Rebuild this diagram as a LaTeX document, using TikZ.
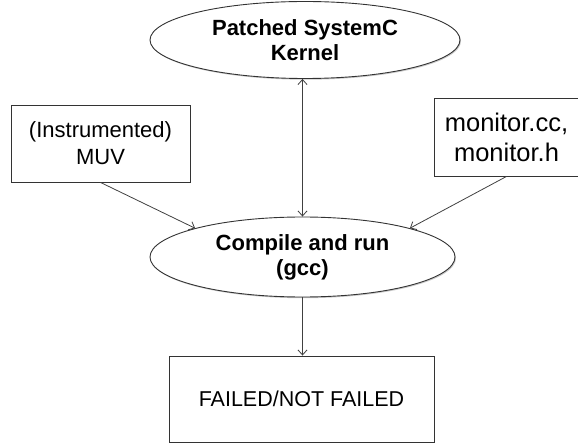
\documentclass[tikz,border=0pt]{standalone}
\usepackage{fontspec}
\setmainfont{Liberation Sans}
\usetikzlibrary{shapes.geometric,arrows.meta,shadows}
\begin{document}
\begin{tikzpicture}[x=1pt,y=-1pt,
  shad/.style={drop shadow={shadow xshift=1pt,shadow yshift=-1.2pt,opacity=0.35,fill=black!60}},
  oval/.style={ellipse,draw=black!80,line width=0.9pt,fill=white,shad,align=center,inner sep=0pt,
     font=\fontsize{22}{25}\selectfont\bfseries},
  box/.style={rectangle,draw=black!80,line width=0.9pt,fill=white,shad,align=center,inner sep=0pt},
  arr/.style={draw=black!75,line width=0.8pt,-{Straight Barb[length=5pt,width=9pt]}},
  darr/.style={draw=black!75,line width=0.8pt,{Straight Barb[length=5pt,width=9pt]}-{Straight Barb[length=5pt,width=9pt]}}]
\useasboundingbox (0,0) rectangle (578,446);
\node[oval,minimum width=310pt,minimum height=77pt] (ker) at (305,40) {Patched SystemC\\Kernel};
\node[oval,minimum width=305pt,minimum height=80pt] (comp) at (302.5,257) {Compile and run\\(gcc)};
\node[box,minimum width=179pt,minimum height=77pt,font=\fontsize{22}{27}\selectfont] (muv) at (100.5,143.5) {(Instrumented)\\MUV};
\node[box,minimum width=145pt,minimum height=78pt,font=\fontsize{25.5}{30}\selectfont] (mon) at (506.5,137) {monitor.cc,\\monitor.h};
\node[box,minimum width=265pt,minimum height=86pt,font=\fontsize{21.5}{26}\selectfont] (res) at (301.5,399) {FAILED/NOT FAILED};
\draw[darr] (ker.south -| comp.north) -- (comp.north);
\draw[arr] (muv.south) -- (comp.165);
\draw[arr] (mon.south) -- (comp.15);
\draw[arr] (comp.south) -- (res.north -| comp.south);
\end{tikzpicture}
\end{document}
